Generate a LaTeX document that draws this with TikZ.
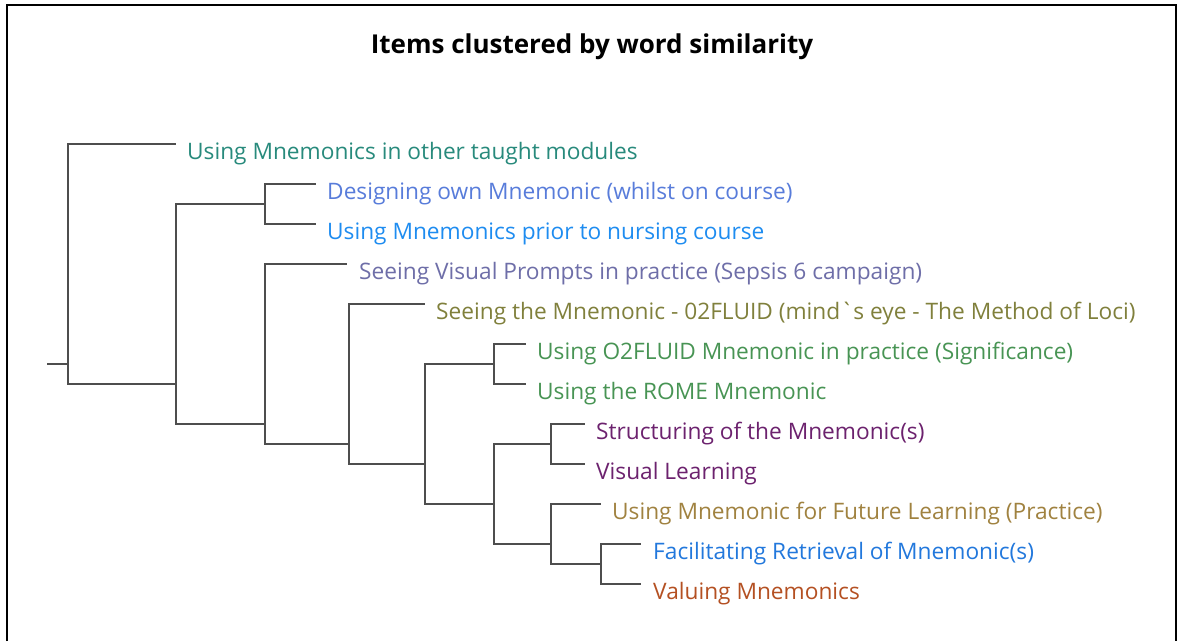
\documentclass[tikz,border=0pt]{standalone}
\usepackage{fontspec}
\setmainfont{Open Sans}
\usepackage{xcolor}
\definecolor{branchgray}{RGB}{78,78,78}
\definecolor{tealleaf}{RGB}{40,138,124}
\definecolor{cornleaf}{RGB}{88,124,218}
\definecolor{skyleaf}{RGB}{30,140,240}
\definecolor{slateleaf}{RGB}{110,110,168}
\definecolor{oliveleaf}{RGB}{128,128,60}
\definecolor{greenleaf}{RGB}{72,148,84}
\definecolor{plumleaf}{RGB}{108,34,110}
\definecolor{tanleaf}{RGB}{160,130,64}
\definecolor{blueleaf}{RGB}{34,120,220}
\definecolor{rustleaf}{RGB}{180,80,34}

\begin{document}
\begin{tikzpicture}[x=1pt, y=-1pt,
    branch/.style={draw=branchgray, line width=2.3pt},
    leaf/.style={anchor=base west, inner sep=0pt, font=\fontsize{22.7}{26}\selectfont},
    heading/.style={font=\fontsize{26}{30}\selectfont\bfseries}
]
    \useasboundingbox (0,0) rectangle (1184,641);

    % Frame (open at the bottom)
    \draw[line width=2.5pt, line join=miter] (7,641) -- (7,5) -- (1176,5) -- (1176,641);

    % Title
    \node[heading] (title) at (592,47) {Items clustered by word similarity};

    % Leaf ends
    \coordinate (e1)  at (176,144);
    \coordinate (e2)  at (316,184);
    \coordinate (e3)  at (316,224);
    \coordinate (e4)  at (347,264);
    \coordinate (e5)  at (425,304);
    \coordinate (e6)  at (526,344);
    \coordinate (e7)  at (526,384);
    \coordinate (e8)  at (585,424);
    \coordinate (e9)  at (585,464);
    \coordinate (e10) at (601,504);
    \coordinate (e11) at (641,544);
    \coordinate (e12) at (641,584);

    % Leaves
    \node[leaf, text=tealleaf]  (L1)  at (187,159) {Using Mnemonics in other taught modules};
    \node[leaf, text=cornleaf]  (L2)  at (327,199) {Designing own Mnemonic (whilst on course)};
    \node[leaf, text=skyleaf]   (L3)  at (327,239) {Using Mnemonics prior to nursing course};
    \node[leaf, text=slateleaf] (L4)  at (359,279) {Seeing Visual Prompts in practice (Sepsis 6 campaign)};
    \node[leaf, text=oliveleaf] (L5)  at (436,319) {Seeing the Mnemonic - 02FLUID (mind\textasciigrave s eye - The Method of Loci)};
    \node[leaf, text=greenleaf] (L6)  at (537,359) {Using O2FLUID Mnemonic in practice (Significance)};
    \node[leaf, text=greenleaf] (L7)  at (537,399) {Using the ROME Mnemonic};
    \node[leaf, text=plumleaf]  (L8)  at (596,439) {Structuring of the Mnemonic(s)};
    \node[leaf, text=plumleaf]  (L9)  at (596,479) {Visual Learning};
    \node[leaf, text=tanleaf]   (L10) at (612,519) {Using Mnemonic for Future Learning (Practice)};
    \node[leaf, text=blueleaf]  (L11) at (653,559) {Facilitating Retrieval of Mnemonic(s)};
    \node[leaf, text=rustleaf]  (L12) at (653,599) {Valuing Mnemonics};

    % Joins
    \coordinate (stub) at (47,364);
    \coordinate (nR) at (68,364);
    \coordinate (nA) at (176,384);
    \coordinate (nB) at (265,204);
    \coordinate (nC) at (265,424);
    \coordinate (nD) at (349,444);
    \coordinate (nE) at (425,464);
    \coordinate (nF) at (494,364);
    \coordinate (nG) at (494,504);
    \coordinate (nH) at (551,444);
    \coordinate (nI) at (551,544);
    \coordinate (nJ) at (601,564);

    % Branches
    \draw[branch] (stub) -- (nR);
    \draw[branch] (nR) |- (e1)  (nR) |- (nA);
    \draw[branch] (nA) |- (nB)  (nA) |- (nC);
    \draw[branch] (nB) |- (e2)  (nB) |- (e3);
    \draw[branch] (nC) |- (e4)  (nC) |- (nD);
    \draw[branch] (nD) |- (e5)  (nD) |- (nE);
    \draw[branch] (nE) |- (nF)  (nE) |- (nG);
    \draw[branch] (nF) |- (e6)  (nF) |- (e7);
    \draw[branch] (nG) |- (nH)  (nG) |- (nI);
    \draw[branch] (nH) |- (e8)  (nH) |- (e9);
    \draw[branch] (nI) |- (e10) (nI) |- (nJ);
    \draw[branch] (nJ) |- (e11) (nJ) |- (e12);
\end{tikzpicture}
\end{document}
